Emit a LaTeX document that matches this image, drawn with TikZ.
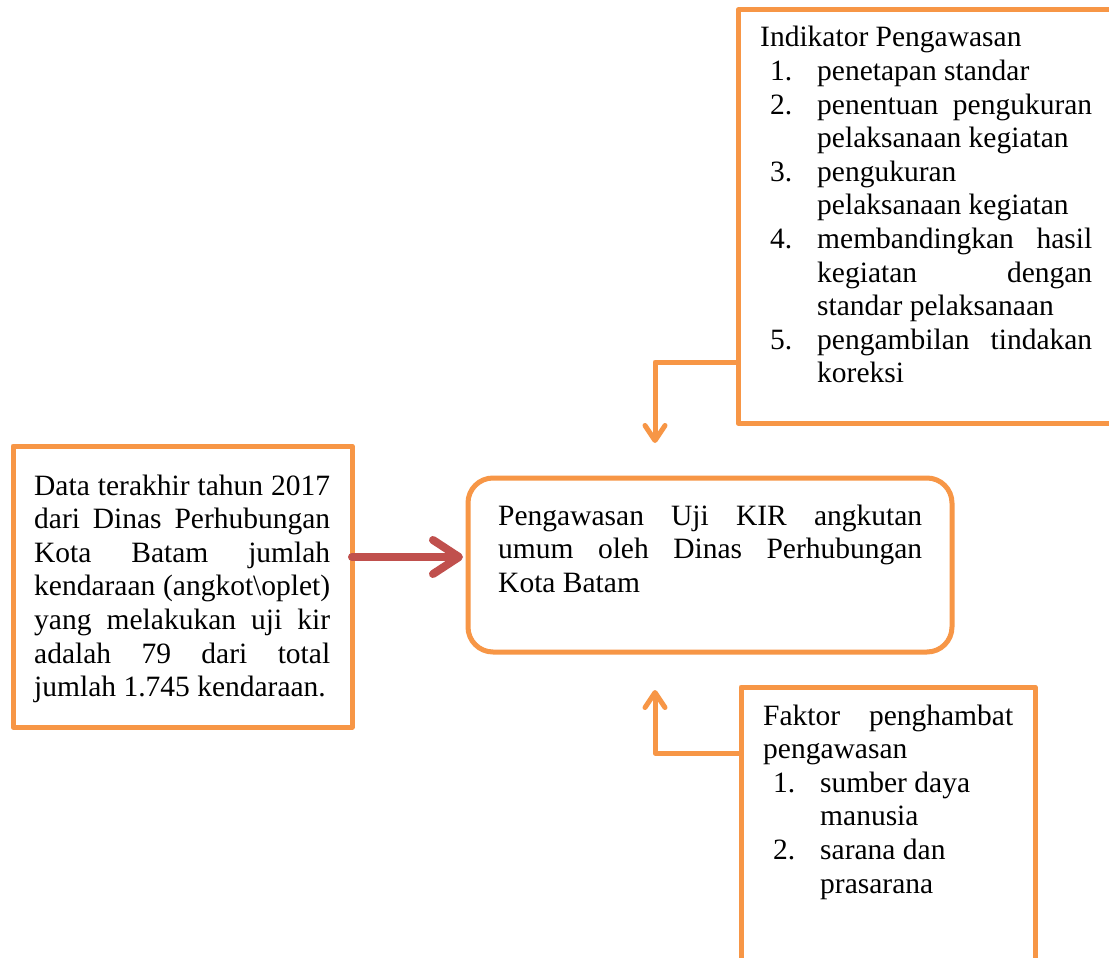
\documentclass[tikz,border=0pt]{standalone}
\usepackage{fontspec}
\setmainfont{Liberation Serif}
\usetikzlibrary{arrows.meta}
\definecolor{boxorange}{HTML}{F79646}
\definecolor{arrred}{HTML}{C0504D}
\newcommand\bodyfont{\fontsize{29.5pt}{33.6pt}\selectfont}
\newcommand\jline[2]{\makebox[#1pt][s]{#2}}
\newcommand\inum[1]{\hspace*{10pt}\makebox[47pt][l]{#1}}
\newcommand\icont{\hspace*{57pt}}
\begin{document}
\begin{tikzpicture}[x=1pt,y=-1pt,
  box/.style={draw=boxorange, line width=5pt, anchor=north west, inner sep=0pt, outer sep=0pt, line join=round},
  txt/.style={anchor=base west, inner sep=0pt, font=\bodyfont},
  conn/.style={draw=boxorange, line width=5pt, line cap=round, line join=round,
    -{Straight Barb[length=15pt, width=20pt, round]}},
  redarr/.style={draw=arrred, line width=8pt, line cap=round, line join=round,
    -{Straight Barb[length=26pt, width=34pt, round]}}]
\useasboundingbox (0,0) rectangle (1109,958);
\clip (0,0) rectangle (1109,958);
\fill[white] (0,0) rectangle (1109,958);

% boxes
\node[box, minimum width=400pt, minimum height=413pt] (ind) at (738,10) {};
\node[box, minimum width=339pt, minimum height=281pt] (data) at (13,446) {};
\node[box, minimum width=484pt, minimum height=174pt, rounded corners=25pt] (main) at (468,478) {};
\node[box, minimum width=294pt, minimum height=300pt] (fak) at (741,687) {};

% texts
\node[txt] (indtext) at (760,47) {\begin{tabular}[t]{@{}l@{}}
Indikator Pengawasan\\
\inum{1.}penetapan standar\\
\inum{2.}\jline{275}{penentuan pengukuran}\\
\icont pelaksanaan kegiatan\\
\inum{3.}pengukuran\\
\icont pelaksanaan kegiatan\\
\inum{4.}\jline{275}{membandingkan hasil}\\
\icont\jline{275}{kegiatan dengan}\\
\icont standar pelaksanaan\\
\inum{5.}\jline{275}{pengambilan tindakan}\\
\icont koreksi
\end{tabular}};

\node[txt] (datatext) at (34,495) {\begin{tabular}[t]{@{}l@{}}
\jline{296}{Data terakhir tahun 2017}\\
\jline{296}{dari Dinas Perhubungan}\\
\jline{296}{Kota Batam jumlah}\\
\jline{296}{kendaraan (angkot\textbackslash oplet)}\\
\jline{296}{yang melakukan uji kir}\\
\jline{296}{adalah 79 dari total}\\
jumlah 1.745 kendaraan.
\end{tabular}};

\node[txt] (maintext) at (498,525) {\begin{tabular}[t]{@{}l@{}}
\jline{424}{Pengawasan Uji KIR angkutan}\\
\jline{424}{umum oleh Dinas Perhubungan}\\
Kota Batam
\end{tabular}};

\node[txt] (faktext) at (763,725) {\begin{tabular}[t]{@{}l@{}}
\jline{250}{Faktor penghambat}\\
pengawasan\\
\inum{1.}sumber daya\\
\icont manusia\\
\inum{2.}sarana dan\\
\icont prasarana
\end{tabular}};

% connectors
\coordinate (a1) at (ind.west |- 0,273);
\coordinate (a2) at (655,443);
\draw[conn] (a1) -- (a1 |- 0,362) -| (a2);

\coordinate (b1) at (fak.west |- 0,813);
\coordinate (b2) at (655,690);
\draw[conn] (b1) -- (b1 |- 0,753) -| (b2);

\draw[redarr] (data.east |- 0,557) -- ([xshift=-5pt]main.west |- 0,557);
\end{tikzpicture}
\end{document}
